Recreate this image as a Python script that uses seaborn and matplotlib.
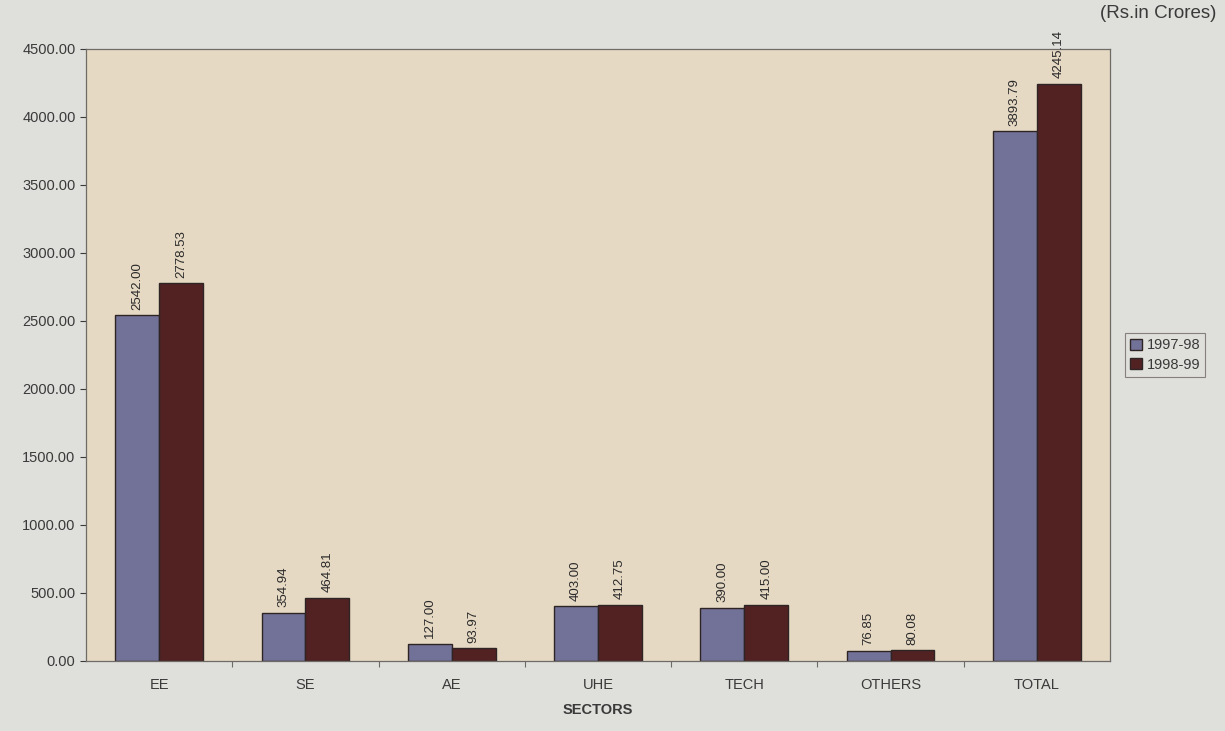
import matplotlib
matplotlib.use("Agg")
import matplotlib.pyplot as plt
import seaborn as sns
import pandas as pd
import numpy as np
from matplotlib.ticker import FormatStrFormatter, FixedLocator

sectors = ["EE", "SE", "AE", "UHE", "TECH", "OTHERS", "TOTAL"]
years = ["1997-98", "1998-99"]
values_9798 = [2542.00, 354.94, 127.00, 403.00, 390.00, 76.85, 3893.79]
values_9899 = [2778.53, 464.81, 93.97, 412.75, 415.00, 80.08, 4245.14]
y_ticks = [0, 500, 1000, 1500, 2000, 2500, 3000, 3500, 4000, 4500]

df = pd.DataFrame({
    "sector": sectors * 2,
    "year": [years[0]] * len(sectors) + [years[1]] * len(sectors),
    "value": values_9798 + values_9899,
})

sns.set_theme(style="white")
plt.rcParams["font.family"] = ["Liberation Sans", "DejaVu Sans"]

text_col = "#3a3a3a"
fig = plt.figure(figsize=(12.25, 7.31), dpi=100)
fig.patch.set_facecolor("#dfdfdb")
ax = fig.add_axes([0.0702, 0.0958, 0.8359, 0.8372])
ax.set_facecolor("#e6d9c4")

sns.barplot(data=df, x="sector", y="value", hue="year", order=sectors,
            hue_order=years, palette=["#6c6a9e", "#5a1a1c"], width=0.6,
            edgecolor="#2e2424", linewidth=1.0, ax=ax, errorbar=None)

for cont in ax.containers:
    ax.bar_label(cont, fmt="%.2f", rotation=90, padding=4, fontsize=9.5,
                 color="#2a2a2a")

ax.set_ylim(0, 4500)
ax.set_yticks(y_ticks)
ax.yaxis.set_major_formatter(FormatStrFormatter("%.2f"))
ax.tick_params(axis="y", labelsize=10.5, colors=text_col, length=4,
               left=True, width=0.8)
for lab in ax.get_yticklabels():
    lab.set_color(text_col)

# category labels centred, tick marks between categories
ax.set_xlim(-0.5, len(sectors) - 0.5)
ax.tick_params(axis="x", which="major", labelsize=10.5, colors=text_col,
               length=0, pad=12)
ax.xaxis.set_minor_locator(FixedLocator(np.arange(0.5, len(sectors) - 0.5, 1.0)))
ax.tick_params(axis="x", which="minor", bottom=True, length=4, width=0.8,
               color="#6e6a66")
ax.set_xlabel("SECTORS", fontsize=10.5, fontweight="bold", color=text_col,
              labelpad=8)
ax.set_ylabel("")

for side in ["left", "bottom", "top", "right"]:
    ax.spines[side].set_visible(True)
    ax.spines[side].set_color("#6e6a66")
    ax.spines[side].set_linewidth(0.9)

leg = ax.legend(loc="center left", bbox_to_anchor=(1.015, 0.50),
                frameon=True, fancybox=False, fontsize=10.5,
                handlelength=0.8, handleheight=0.8, handletextpad=0.3,
                borderpad=0.35, labelspacing=0.35, borderaxespad=0)
leg.get_frame().set_edgecolor("#6e6a66")
leg.get_frame().set_facecolor("#dfdfdb")
leg.get_frame().set_linewidth(0.8)
for t in leg.get_texts():
    t.set_color(text_col)

fig.text(0.898, 0.981, "(Rs.in Crores)", fontsize=13.5, color=text_col,
         ha="left", va="center")

fig.savefig("out.png", dpi=100, facecolor=fig.get_facecolor())
